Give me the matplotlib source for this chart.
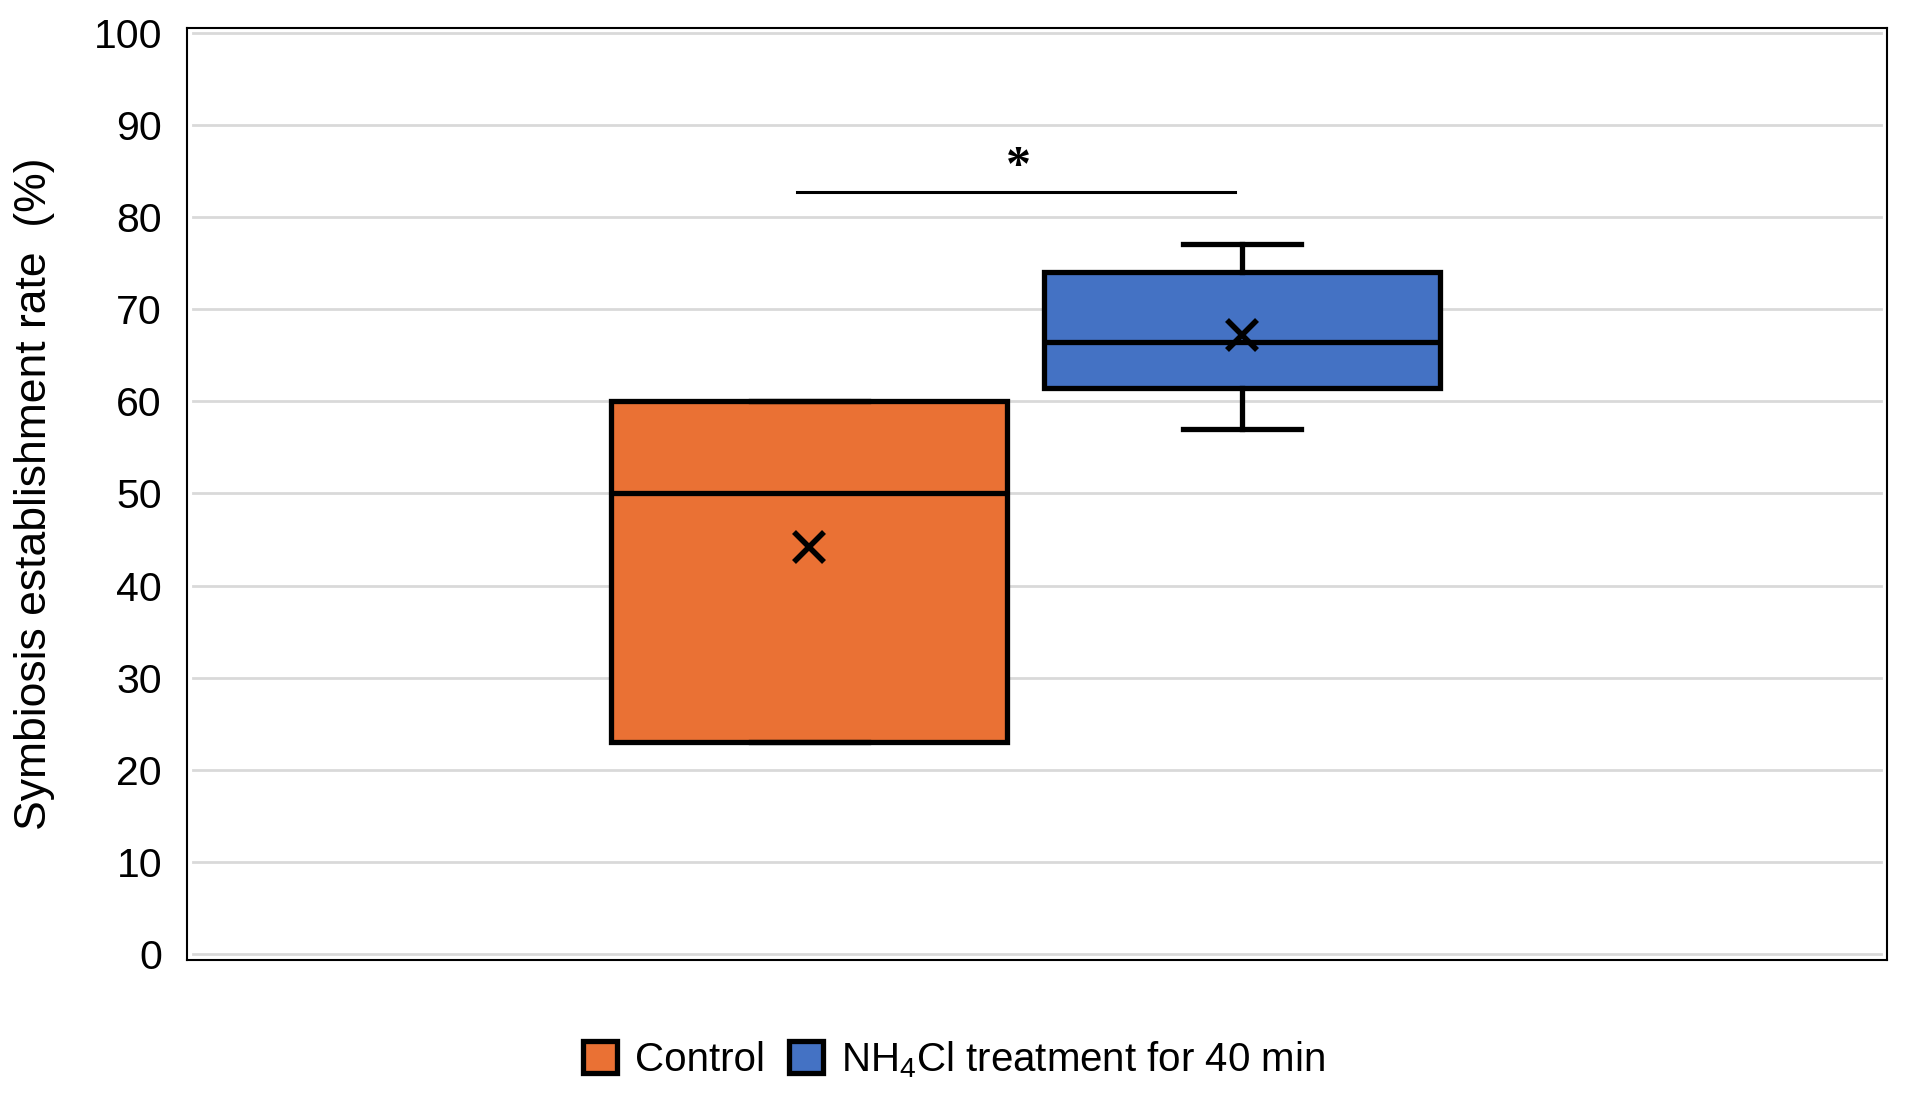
import matplotlib
matplotlib.use("Agg")
import matplotlib.pyplot as plt
from matplotlib.patches import Patch

plt.rcParams["font.family"] = ["Liberation Sans", "DejaVu Sans"]
plt.rcParams["mathtext.fontset"] = "custom"
plt.rcParams["mathtext.rm"] = "Liberation Sans"
plt.rcParams["mathtext.default"] = "rm"

# Data (Excel style box-and-whisker)
groups = ["Control", "NH$_4$Cl treatment for 40 min"]
q1 = [23.0, 61.4]
median = [50.0, 66.4]
q3 = [60.0, 74.0]
whisker_low = [23.0, 57.0]
whisker_high = [60.0, 77.1]
means = [44.2, 67.2]
colors = ["#EA7134", "#4472C4"]

yticks = [0, 10, 20, 30, 40, 50, 60, 70, 80, 90, 100]
sig_y = 82.7
sig_label = "*"

# layout (axes fraction on x)
positions = [0.366, 0.6206]
box_width = 0.233
cap_width = 0.069

fig = plt.figure(figsize=(19.05, 10.93), dpi=100)
ax = fig.add_axes([187 / 1905, 133 / 1093, 1700 / 1905, 932 / 1093])

ax.set_xlim(0, 1)
ax.set_ylim(-0.65, 100.54)

for t in yticks:
    ax.axhline(t, xmin=0.0035, xmax=0.9965, color="#D9D9D9", lw=2.0, zorder=0)

stats = []
for i in range(len(groups)):
    stats.append(dict(med=median[i], q1=q1[i], q3=q3[i],
                      whislo=whisker_low[i], whishi=whisker_high[i],
                      mean=means[i], fliers=[]))

bp = ax.bxp(stats, positions=positions, widths=box_width,
            capwidths=[cap_width] * len(groups),
            patch_artist=True, showmeans=True, showfliers=False,
            boxprops=dict(edgecolor="black", linewidth=3.8),
            medianprops=dict(color="black", linewidth=3.8),
            whiskerprops=dict(color="black", linewidth=3.8),
            capprops=dict(color="black", linewidth=3.8),
            meanprops=dict(marker="x", markeredgecolor="black",
                           markersize=21, markeredgewidth=4))
for patch, c in zip(bp["boxes"], colors):
    patch.set_facecolor(c)
for art in bp["boxes"] + bp["medians"] + bp["whiskers"] + bp["caps"] + bp["means"]:
    art.set_zorder(3)

# significance bar
ax.plot([0.359, 0.6165], [sig_y, sig_y], color="black", lw=2.2, zorder=3)
ax.text(0.489, sig_y + 2.6, sig_label, ha="center", va="center",
        fontsize=36, fontweight="bold", family=["Liberation Serif"], zorder=3)

ax.set_yticks(yticks)
ax.set_yticklabels([str(t) for t in yticks])
ax.set_xticks([])
ax.tick_params(axis="y", length=0, pad=18, labelsize=29.5)
for s in ax.spines.values():
    s.set_color("black")
    s.set_linewidth(1.5)

fig.text(35 / 1905, 1 - 494 / 1093, "Symbiosis establishment rate  (%)",
         rotation=90, ha="center", va="center", fontsize=32)

handles = [Patch(facecolor=c, edgecolor="black", linewidth=3.8) for c in colors]
fig.legend(handles, groups, loc="center", bbox_to_anchor=(954 / 1905, 33.5 / 1093),
           ncol=2, frameon=False, fontsize=29, handlelength=0.84,
           handleheight=0.84, handletextpad=0.45, columnspacing=0.6)

fig.savefig("out.png", dpi=100)
